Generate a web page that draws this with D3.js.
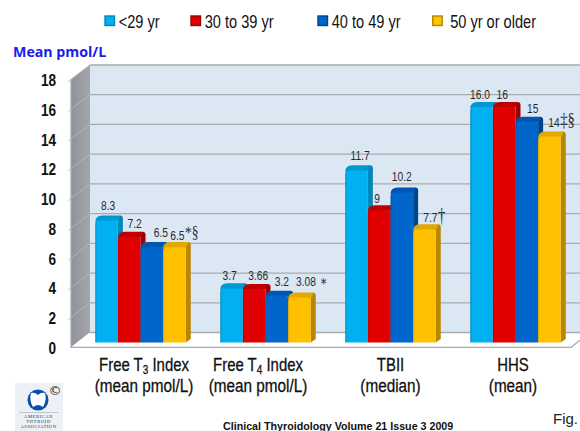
<!DOCTYPE html>
<html>
<head>
<meta charset="utf-8">
<script src="https://cdnjs.cloudflare.com/ajax/libs/d3/7.8.5/d3.min.js"></script>
<style>
html,body{margin:0;padding:0;background:#fff;overflow:hidden}
svg{display:block}
text{font-family:"Liberation Sans",Arial,sans-serif}
</style>
</head>
<body>
<svg id="c" width="580" height="431"></svg>
<script>
// ---- data ----
const categories = ["Free T3 Index","Free T4 Index","TBII","HHS"];
const categorySub = ["(mean pmol/L)","(mean pmol/L)","(median)","(mean)"];
const seriesNames = ["<29 yr","30 to 39 yr","40 to 49 yr","50 yr or older"];
const under29 = [8.3,3.7,11.7,16.0];
const age30to39 = [7.2,3.66,9,16];
const age40to49 = [6.5,3.2,10.2,15];
const age50plus = [6.5,3.08,7.7,14];
const labels29 = ["8.3","3.7","11.7","16.0"];
const labels30 = ["7.2","3.66","9","16"];
const labels40 = ["6.5","3.2","10.2","15"];
const labels50 = ["6.5","3.08","7.7","14"];
const marks50 = ["*§"," *","†","‡§"];
const yTicks = [0,2,4,6,8,10,12,14,16,18];
const yTitle = "Mean pmol/L";
const footer = "Clinical Thyroidology Volume 21 Issue 3 2009";
const figText = "Fig.";

// ---- style / layout ----
const palette = [
  {face:"#00b0f0",edge:"#0089bd",side:"#0087b8",cap:"#0098d0"},
  {face:"#e00000",edge:"#c40000",side:"#9c0000",cap:"#c00000"},
  {face:"#0066cc",edge:"#0058b0",side:"#00458c",cap:"#0056ae"},
  {face:"#ffc000",edge:"#f5b400",side:"#b88600",cap:"#e0a800"}
];
const labelDx = [[1.5,5.5,9,3],[-2,4,5,6.5],[3.5,-2,0,6],[-1.5,-2,6,4.5]];
const labelDy = [[10,8,10,6.5],[8,8.5,9.3,11],[10,7,11,7],[7.5,7.5,8,9]];
const catLabelDx = [3.5,-7.5,0,-2.5];
const markStyle = [
  {size:17,sx:.8,dy:-2.5,font:"Liberation Serif"},
  {size:14,sx:.9,dy:2,font:"DejaVu Sans"},
  {size:21,sx:.7,dy:0,font:"Liberation Serif"},
  {size:18,sx:.82,dy:-1.5,font:"Liberation Serif"}
];

const svg = d3.select("#c");
const defs = svg.append("defs");

const yBack = d3.scaleLinear().domain([0,18]).range([332.5,65]);
const yFront = d3.scaleLinear().domain([0,18]).range([347.3,79.5]);
const yBar = d3.scaleLinear().domain([0,18]).range([342.5,77]);
const xGroup = d3.scaleBand().domain(categories).range([78,578]).paddingInner(0.276).paddingOuter(0.138);
const xSeries = d3.scaleBand().domain(d3.range(4)).range([0,xGroup.bandwidth()]);

const wallL=90, wallR=580, frontL=71, frontR=571, depthX=5, depthY=4.6;

// gradients
const sg = defs.append("linearGradient").attr("id","wallGrad").attr("x1",0).attr("x2",1).attr("y1",0).attr("y2",0);
sg.append("stop").attr("offset",0).attr("stop-color","#8f929a");
sg.append("stop").attr("offset",1).attr("stop-color","#a4a6ac");
palette.forEach((p,i)=>{
  const g = defs.append("linearGradient").attr("id","f"+i).attr("x1",0).attr("x2",1).attr("y1",0).attr("y2",0);
  g.append("stop").attr("offset",0).attr("stop-color",p.edge);
  g.append("stop").attr("offset",0.09).attr("stop-color",p.face);
  g.append("stop").attr("offset",1).attr("stop-color",p.face);
});

// walls and floor
const line = d3.line();
svg.append("rect").attr("x",wallL).attr("y",yBack(18)).attr("width",wallR-wallL).attr("height",yBack(0)-yBack(18)).attr("fill","#dce7f4");
svg.append("path").attr("d",line([[frontL,yFront(18)],[wallL,yBack(18)],[wallL,yBack(0)],[frontL,yFront(0)]])+"Z").attr("fill","url(#wallGrad)");
svg.append("path").attr("d",line([[frontL,yFront(0)],[wallL,yBack(0)],[wallR,yBack(0)],[wallR,yFront(0)-7],[frontR,yFront(0)]])+"Z").attr("fill","#ffffff");

// gridlines
svg.append("g").selectAll("line").data(yTicks).join("line")
  .attr("x1",wallL).attr("x2",wallR).attr("y1",yBack).attr("y2",yBack)
  .attr("stroke","#a9abae").attr("stroke-width",1.3);
svg.append("g").selectAll("line").data(yTicks.slice(1)).join("line")
  .attr("x1",frontL-3).attr("x2",wallL).attr("y1",d=>yFront(d)+2.3).attr("y2",yBack)
  .attr("stroke","#b9bbc0").attr("stroke-width",0.8);
svg.append("path").attr("d",line([[frontL,yFront(18)],[frontL,yFront(0)],[frontR,yFront(0)],[wallR,yFront(0)-7]]))
  .attr("fill","none").attr("stroke","#a9abae").attr("stroke-width",1.3);
svg.append("path").attr("d",line([[frontL,yFront(18)],[wallL,yBack(18)]])).attr("fill","none").attr("stroke","#a9abae");

// bars
const seriesValues = [under29,age30to39,age40to49,age50plus];
const seriesLabels = [labels29,labels30,labels40,labels50];
const barData = [];
categories.forEach((c,ci)=>seriesValues.forEach((vals,si)=>barData.push({c,ci,si,v:vals[ci]})));
const bars = svg.append("g").selectAll("g").data(barData).join("g")
  .attr("transform",d=>`translate(${xGroup(d.c)+xSeries(d.si)},0)`);
const bw = xSeries.bandwidth();
// side
bars.append("path").attr("fill",d=>palette[d.si].side).attr("d",d=>{
  const t=yBar(d.v), b=yBar(0);
  return `M${bw},${t} L${bw+depthX-3},${t-depthY} Q${bw+depthX},${t-depthY} ${bw+depthX},${t-depthY+3} L${bw+depthX},${b-depthY+1} L${bw},${b}Z`;
});
// cap
bars.append("path").attr("fill",d=>palette[d.si].cap).attr("d",d=>{
  const t=yBar(d.v);
  return `M0,${t+2} Q0,${t-depthY} 7,${t-depthY} L${bw+depthX-3},${t-depthY} Q${bw+depthX-1},${t-depthY} ${bw},${t+1} Z`;
});
// face
bars.append("path").attr("fill",d=>`url(#f${d.si})`).attr("d",d=>{
  const t=yBar(d.v)+0.5, b=yBar(0);
  return `M0,${b} L0,${t+4} Q0,${t} 4,${t} L${bw-2},${t} Q${bw},${t} ${bw},${t+2} L${bw},${b} Z`;
});

// helpers
function squeezed(sel,x,y,sx){ return sel.attr("transform",`translate(${x},${y}) scale(${sx},1)`); }

// value labels
const vl = svg.append("g");
barData.forEach(d=>{
  const cx = xGroup(d.c)+xSeries(d.si)+bw/2+labelDx[d.ci][d.si];
  const by = yBar(d.v)-labelDy[d.ci][d.si];
  const t = vl.append("text").attr("text-anchor","middle").attr("font-size",13).attr("fill","#262b33")
    .text(seriesLabels[d.si][d.ci]);
  squeezed(t,cx,by,0.79);
  if(d.si===3){
    const w = t.node().getComputedTextLength()*0.79;
    const ms = markStyle[d.ci];
    const m = vl.append("text").attr("font-size",ms.size).attr("fill","#262b33")
      .attr("xml:space","preserve").style("white-space","pre")
      .style("font-family",`'${ms.font}'`).text(marks50[d.ci]);
    squeezed(m,cx+w/2+0.5,by+ms.dy,ms.sx);
  }
});

// y axis
const axis = d3.axisLeft(yFront).tickValues(yTicks).tickSize(0).tickFormat(d3.format("d"));
const ag = svg.append("g").attr("transform","translate(56,0)").call(axis);
ag.select(".domain").remove();
ag.selectAll("text").attr("x",0).attr("dy",0).attr("font-size",17).attr("font-weight","bold").attr("fill","#111")
  .attr("font-family","'Liberation Sans'").attr("text-anchor","end")
  .attr("dominant-baseline","central").attr("transform","scale(.8,1)");

// y title
svg.append("text").attr("x",13).attr("y",57).style("font-family","'Open Sans'").attr("font-weight","bold")
  .attr("font-size",14.2).attr("fill","#1a1aee").text(yTitle);

// legend
const legendX = d3.scaleOrdinal().domain(seriesNames).range([105,191,318,432.7]);
const lg = svg.append("g").selectAll("g").data(seriesNames).join("g")
  .attr("transform",d=>`translate(${legendX(d)},16)`);
lg.append("rect").attr("width",9.5).attr("height",9.5).attr("fill",(d,i)=>palette[i].face).attr("stroke",(d,i)=>palette[i].side).attr("stroke-width",1.4);
lg.append("rect").attr("x",2.5).attr("y",2.5).attr("width",4.5).attr("height",4.5).attr("fill",(d,i)=>palette[i].face);
lg.append("text").attr("font-size",18).attr("fill","#111").text(d=>d)
  .attr("transform",(d,i)=>`translate(${i===3?17.5:13.7},11.5) scale(.81,1)`);

// category labels
categories.forEach((c,i)=>{
  const cx = xGroup(c)+xGroup.bandwidth()/2+catLabelDx[i];
  const sub = /^(Free T)(\d)( Index)$/.exec(c);
  const t1 = svg.append("text").attr("text-anchor","middle").attr("font-size",18).attr("fill","#111")
    .attr("stroke","#111").attr("stroke-width",0.3);
  if(sub){
    t1.append("tspan").text(sub[1]);
    t1.append("tspan").attr("font-size",12).attr("dy",3).text(sub[2]);
    t1.append("tspan").attr("dy",-3).text(sub[3]);
  } else t1.text(c);
  squeezed(t1,cx,371,0.83);
  const t2 = svg.append("text").attr("text-anchor","middle").attr("font-size",18).attr("fill","#111")
    .attr("stroke","#111").attr("stroke-width",0.3).text(categorySub[i]);
  squeezed(t2,cx,392,0.85);
});

// footer
svg.append("text").attr("x",223).attr("y",429.5).attr("font-size",10.7).attr("font-weight","bold").attr("fill","#111").text(footer);
svg.append("text").attr("x",553).attr("y",424).attr("font-size",15).attr("fill","#222").text(figText);

// society logo
const logo = svg.append("g");
logo.append("rect").attr("x",15).attr("y",383).attr("width",48).attr("height",48).attr("fill","#edf1f6");
logo.append("circle").attr("cx",38).attr("cy",400).attr("r",10.5).attr("fill","#0a50a8");
logo.append("path").attr("fill","#fff").attr("d","M31,393 Q35,392 38,395 Q41,392 45,393 Q47,400 43,407 Q40,405 38,405 Q36,405 33,407 Q29,400 31,393Z");
logo.append("text").attr("x",55).attr("y",395).attr("text-anchor","middle").attr("font-size",13).attr("fill","#222")
  .style("font-family","'DejaVu Sans'").text("©");
logo.append("line").attr("x1",19).attr("x2",58).attr("y1",412.5).attr("y2",412.5).attr("stroke","#b5bcc6").attr("stroke-width",0.8);
["AMERICAN","THYROID","ASSOCIATION"].forEach((s,i)=>{
  logo.append("text").attr("x",38.5).attr("y",418+i*5.2).attr("text-anchor","middle")
    .style("font-family","'Liberation Serif'").attr("font-size",4.6).attr("letter-spacing",0.55).attr("fill","#333").text(s);
});
</script>
</body>
</html>
